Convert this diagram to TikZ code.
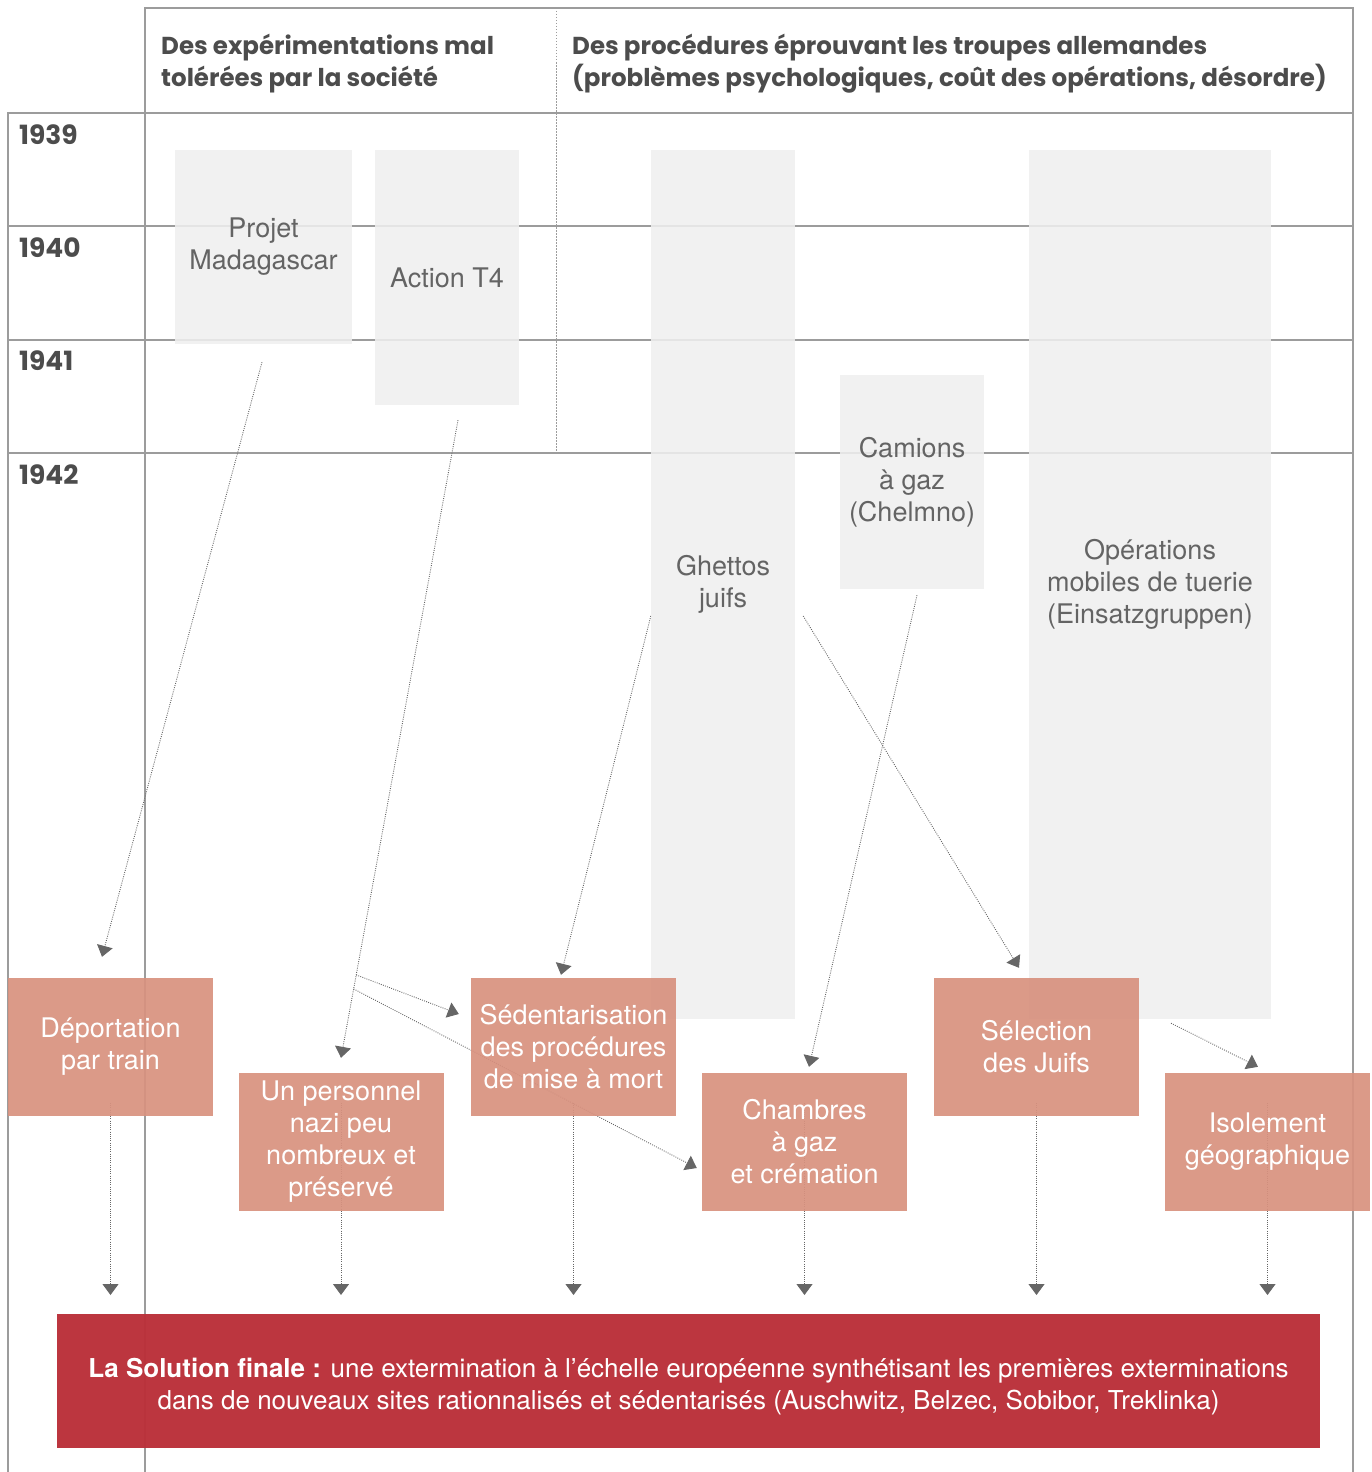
\documentclass[tikz,border=0pt]{standalone}
\usepackage{fontspec}
\setmainfont{TeX Gyre Heros}
\newfontfamily\hfont{Poppins}
\usetikzlibrary{arrows.meta,calc}
\definecolor{gridc}{HTML}{9C9C9C}
\definecolor{hdrc}{HTML}{4C4C4C}
\definecolor{gfill}{HTML}{EFEFEF}
\definecolor{gtext}{HTML}{646464}
\definecolor{salmon}{HTML}{D8927F}
\definecolor{redbox}{HTML}{BA3039}
\definecolor{arrc}{HTML}{666666}
\pgfdeclarelayer{gridlayer}
\pgfdeclarelayer{arrlayer}
\pgfsetlayers{gridlayer,arrlayer,main}
\begin{document}
\begin{tikzpicture}[x=1pt,y=-1pt,
  gridline/.style={draw=gridc, line width=1.3pt},
  vdot/.style={draw=gridc, line width=0.9pt, dash pattern=on 1.5pt off 1.5pt},
  hdr/.style={text=hdrc, font=\hfont\bfseries\fontsize{24.5}{32}\selectfont, align=left, inner sep=0pt},
  yr/.style={text=hdrc, font=\hfont\bfseries\fontsize{26.5}{32}\selectfont, inner sep=0pt, anchor=base west},
  gbox/.style={fill=gfill, fill opacity=0.88, text opacity=1, text=gtext, align=center, inner sep=0pt,
    font=\fontsize{27}{32}\selectfont},
  sbox/.style={fill=salmon, fill opacity=0.93, text opacity=1, text=white, align=center, inner sep=0pt,
    minimum width=205, minimum height=138, font=\fontsize{27}{32}\selectfont},
  rbox/.style={fill=redbox, fill opacity=0.97, inner sep=0pt},
  rtext/.style={text=white, align=center, inner sep=0pt, font=\fontsize{26}{32}\selectfont},
  conn/.style={draw=arrc, line width=0.9pt, dash pattern=on 0.9pt off 1.3pt,
    -{Triangle[length=11pt,width=16pt,fill=arrc]}}
]
\useasboundingbox (0,0) rectangle (1372,1472);

% headers
\node[hdr, anchor=base west] (h1) at (161,86) {Des expérimentations mal\\tolérées par la société};
\node[hdr, anchor=base west] (h2) at (572,86) {Des procédures éprouvant les troupes allemandes\\(problèmes psychologiques, coût des opérations, désordre)};

% years
\node[yr] (y39) at (19,144) {1939};
\node[yr] (y40) at (19,257) {1940};
\node[yr] (y41) at (19,370) {1941};
\node[yr] (y42) at (19,484) {1942};

% gray boxes
\node[gbox, minimum width=177, minimum height=194] (mada) at (263.5,247) {Projet\\Madagascar};
\node[gbox, minimum width=144, minimum height=255] (t4) at (447,277.5) {Action T4};
\node[gbox, minimum width=144, minimum height=869] (ghet) at (723,584.5) {Ghettos\\juifs};
\node[gbox, minimum width=144, minimum height=214] (cam) at (912,482) {Camions\\à gaz\\(Chelmno)};
\node[gbox, minimum width=242, minimum height=869] (eins) at (1150,584.5) {Opérations\\mobiles de tuerie\\(Einsatzgruppen)};

% salmon boxes
\node[sbox] (dep) at (110.5,1047) {Déportation\\par train};
\node[sbox] (pers) at (341,1142) {Un personnel\\nazi peu\\nombreux et\\préservé};
\node[sbox] (sed) at (573.5,1047) {Sédentarisation\\des procédures\\de mise à mort};
\node[sbox] (cham) at (804.5,1142) {Chambres\\à gaz\\et crémation};
\node[sbox] (sel) at (1036.5,1047) {Sélection\\des Juifs};
\node[sbox] (iso) at (1267.5,1142) {Isolement\\géographique};

% final box
\node[rbox, minimum width=1263, minimum height=134] (fin) at (688.5,1381) {};
\node[rtext] (fintext) at ($(fin.center)+(0,6)$)
  {\textbf{La Solution finale :} une extermination à l’échelle européenne synthétisant les premières exterminations\\dans de nouveaux sites rationnalisés et sédentarisés (Auschwitz, Belzec, Sobibor, Treklinka)};

\begin{pgfonlayer}{gridlayer}
\draw[gridline] (145,1472) -- (145,8) -- (1353,8) -- (1353,1472);
\draw[gridline] (8,1472) -- (8,113) -- (1353,113);
\foreach \yy in {226,340,453} \draw[gridline] (8,\yy) -- (1353,\yy);
\draw[vdot] (556,8) -- (556,453);
\end{pgfonlayer}

\begin{pgfonlayer}{arrlayer}
\coordinate (a1s) at ($(mada.south)+(-1.5,18)$);
\coordinate (a1e) at ($(dep.north)+(-8.5,-21)$);
\coordinate (a2s) at ($(t4.south)+(11,15)$);
\coordinate (a2e) at ($(pers.north)+(0,-15)$);
\coordinate (b1) at ($(a2s)!0.87!(a2e)$);
\coordinate (b2) at ($(a2s)!0.892!(a2e)$);
\coordinate (b1e) at ($(sed.west)+(-12,-33)$);
\coordinate (b2e) at ($(cham.west)+(-5,26)$);
\coordinate (a3s) at ($(ghet.west)+(0,31.5)$);
\coordinate (a3e) at ($(sed.north)+(-12.5,-3)$);
\coordinate (a4s) at ($(ghet.east)+(8,31.5)$);
\coordinate (a4e) at ($(sel.north)+(-17.5,-10)$);
\coordinate (a5s) at ($(cam.south)+(5,6)$);
\coordinate (a5e) at ($(cham.north)+(4.5,-6)$);
\coordinate (a6s) at ($(eins.south)+(21,4)$);
\coordinate (a6e) at ($(iso.north)+(-9.5,-6)$);
\draw[conn] (a1s) -- (a1e);
\draw[conn] (a2s) -- (a2e);
\draw[conn] (b1) -- (b1e);
\draw[conn] (b2) -- (b2e);
\draw[conn] (a3s) -- (a3e);
\draw[conn] (a4s) -- (a4e);
\draw[conn] (a5s) -- (a5e);
\draw[conn] (a6s) -- (a6e);
\coordinate (dtop) at (0,1103);
\coordinate (dtip) at (0,1295);
\foreach \n in {dep,pers,sed,cham,sel,iso}
  \draw[conn] (\n.center |- dtop) -- (\n.center |- dtip);
\end{pgfonlayer}
\end{tikzpicture}
\end{document}
